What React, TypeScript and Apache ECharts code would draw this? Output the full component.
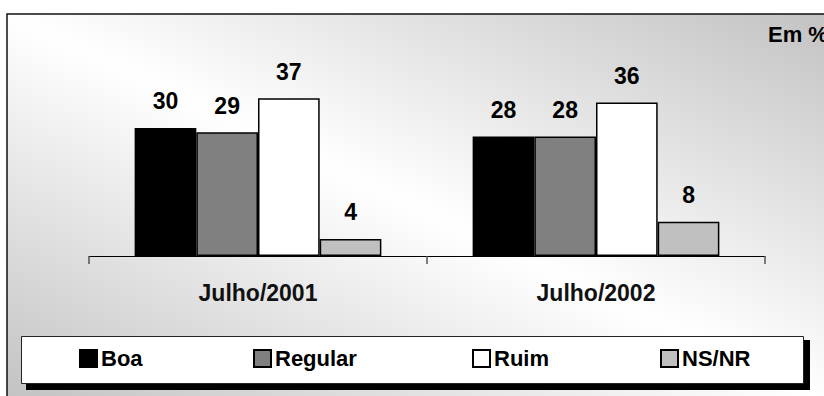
import React, { useEffect, useRef } from "react";
import * as echarts from "echarts";

const categories = ["Julho/2001", "Julho/2002"];
const seriesNames = ["Boa", "Regular", "Ruim", "NS/NR"];
const boaValues = [30, 28];
const regularValues = [29, 28];
const ruimValues = [37, 36];
const nsnrValues = [4, 8];
const seriesColors = ["#000000", "#808080", "#ffffff", "#c0c0c0"];
const unitNote = "Em %";

const FONT = "'Liberation Sans', Arial, sans-serif";

export default function App() {
  const ref = useRef<HTMLDivElement>(null);

  useEffect(() => {
    if (!ref.current) return;
    const chart = echarts.init(ref.current, undefined, { renderer: "svg" });
    const allValues = [boaValues, regularValues, ruimValues, nsnrValues];
    const legendLefts = [79, 253, 472, 660];

    const option: any = {
      animation: false,
      backgroundColor: "#ffffff",
      textStyle: { fontFamily: FONT },
      grid: { left: 89, right: 59, top: 85.33, bottom: 140, containLabel: false },
      xAxis: {
        type: "category",
        data: categories,
        axisLine: { show: true, lineStyle: { color: "#000", width: 1 } },
        axisTick: { show: true, length: 8, lineStyle: { color: "#555", width: 1.5 } },
        axisLabel: {
          margin: 25,
          color: "#111",
          fontSize: 23,
          fontWeight: "bold",
          fontFamily: FONT,
        },
      },
      yAxis: {
        type: "value",
        min: 0,
        max: 40,
        show: false,
        splitLine: { show: false },
      },
      legend: seriesNames.map((name, i) => ({
        data: [name],
        left: legendLefts[i],
        top: 347.5,
        padding: 0,
        icon: "rect",
        itemWidth: 17,
        itemHeight: 17,
        itemGap: 5,
        selectedMode: false,
        textStyle: { fontSize: 22, fontWeight: "bold", color: "#000", fontFamily: FONT, padding: [0, 0, 0, -1] },
        z: 10,
      })),
      series: seriesNames.map((name, i) => ({
        name,
        type: "bar",
        data: allValues[i],
        barGap: "0%",
        barCategoryGap: "27%",
        itemStyle: { color: seriesColors[i], borderColor: "#000", borderWidth: 1.5 },
        label: {
          show: true,
          position: "top",
          distance: 15,
          color: "#000",
          fontSize: 23,
          fontWeight: "bold",
          fontFamily: FONT,
        },
      })),
      graphic: [
        {
          type: "rect",
          z: -10,
          silent: true,
          shape: { x: 7, y: 14, width: 822, height: 388 },
          style: {
            fill: new echarts.graphic.LinearGradient(1, 0, 0, 1, [
              { offset: 0, color: "#c2c2c2" },
              { offset: 0.5, color: "#ffffff" },
              { offset: 1, color: "#c2c2c2" },
            ]),
            stroke: "#111",
            lineWidth: 1.5,
          },
        },
        {
          type: "rect",
          z: 1,
          silent: true,
          shape: { x: 26, y: 340, width: 784, height: 50 },
          style: { fill: "#000" },
        },
        {
          type: "rect",
          z: 2,
          silent: true,
          shape: { x: 21.5, y: 336.5, width: 782, height: 47 },
          style: { fill: "#fff", stroke: "#222", lineWidth: 1 },
        },
        {
          type: "text",
          z: 3,
          silent: true,
          style: {
            text: unitNote,
            x: 768,
            y: 34.7,
            verticalAlign: "middle",
            fill: "#000",
            font: `bold 22px ${FONT}`,
          },
        },
      ],
    };
    chart.setOption(option);
    return () => chart.dispose();
  }, []);

  return (
    <div
      ref={ref}
      style={{ position: "fixed", left: 0, top: 0, width: 824, height: 396 }}
    />
  );
}
